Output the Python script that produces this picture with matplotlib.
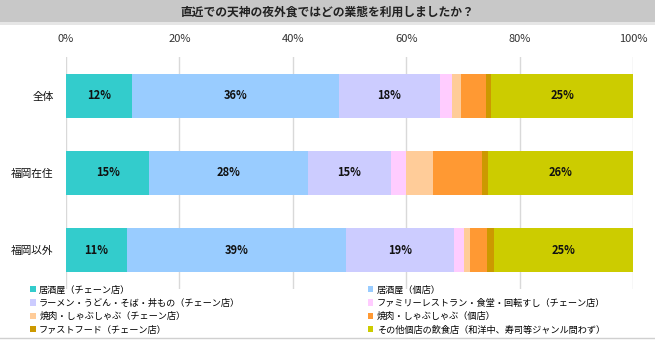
import numpy as np
import matplotlib.pyplot as plt
from matplotlib.patches import Rectangle
from matplotlib.lines import Line2D

plt.rcParams['font.family'] = ['Noto Sans CJK JP', 'DejaVu Sans']

title = "直近での天神の夜外食ではどの業態を利用しましたか？"
groups = ["全体", "福岡在住", "福岡以外"]
categories = [
    "居酒屋（チェーン店）",
    "居酒屋（個店）",
    "ラーメン・うどん・そば・丼もの（チェーン店）",
    "ファミリーレストラン・食堂・回転すし（チェーン店）",
    "焼肉・しゃぶしゃぶ（チェーン店）",
    "焼肉・しゃぶしゃぶ（個店）",
    "ファストフード（チェーン店）",
    "その他個店の飲食店（和洋中、寿司等ジャンル問わず）",
]
# percent per group, one list per category (全体, 福岡在住, 福岡以外)
izakaya_chain = [11.7, 14.7, 10.8]
izakaya_indep = [36.4, 28.0, 38.6]
ramen_chain = [17.9, 14.6, 19.0]
family_chain = [2.1, 2.6, 1.8]
yakiniku_chain = [1.6, 4.8, 1.0]
yakiniku_indep = [4.4, 8.6, 3.0]
fastfood_chain = [0.9, 1.2, 1.2]
other_indep = [25.0, 25.6, 24.7]
series = [izakaya_chain, izakaya_indep, ramen_chain, family_chain,
          yakiniku_chain, yakiniku_indep, fastfood_chain, other_indep]
colors = ["#33CCCC", "#99CCFF", "#CCCCFF", "#FFCCFF",
          "#FFCC99", "#FF9933", "#CC9900", "#CCCC00"]

fig = plt.figure(figsize=(6.55, 3.43), dpi=100)
fig.patch.set_facecolor("white")

# title bar
fig.patches.append(Rectangle((0, 1 - 22 / 343), 1, 22 / 343, transform=fig.transFigure,
                             facecolor="#C8C8C8", edgecolor="none", zorder=0))
fig.patches.append(Rectangle((0, 1 - 25 / 343), 1, 3 / 343, transform=fig.transFigure,
                             facecolor="#E6E6E6", edgecolor="none", zorder=0))
fig.text(0.5, 1 - 12 / 343, title, ha="center", va="center",
         fontsize=8.5, fontweight="bold", color="#222222")
# bottom line
fig.lines.append(Line2D([0, 1], [1 - 337.5 / 343] * 2, transform=fig.transFigure,
                        color="#D0D0D0", linewidth=1))

ax = fig.add_axes([66 / 655, 1 - 289 / 343, (633 - 66) / 655, 232 / 343])
y = np.arange(len(groups))
left = np.zeros(len(groups))
for vals, c, name in zip(series, colors, categories):
    vals = np.array(vals)
    ax.barh(y, vals, left=left, height=0.57, color=c, label=name, zorder=2)
    for yi, v, l in zip(y, vals, left):
        if v >= 10:
            ax.text(l + v / 2, yi, f"{v:.0f}%", ha="center", va="center",
                    fontsize=8, fontweight="bold", color="#111111", zorder=3)
    left += vals

ax.set_xlim(0, 100)
ax.set_ylim(2.5, -0.5)
ax.set_yticks(y)
ax.set_yticklabels(groups, fontsize=7.7)
ax.set_xticks(np.arange(0, 101, 20))
ax.set_xticklabels([f"{t}%" for t in range(0, 101, 20)], fontsize=8)
ax.xaxis.tick_top()
ax.tick_params(axis="x", length=0, pad=9, colors="#333333")
ax.tick_params(axis="y", length=0, pad=9, colors="#111111")
ax.grid(axis="x", color="#D9D9D9", linewidth=1, zorder=0)
for s in ax.spines.values():
    s.set_visible(False)

handles, labels = ax.get_legend_handles_labels()
leg_kw = dict(frameon=False, fontsize=6.6, handlelength=0.65, handleheight=0.65,
              handletextpad=0.35, labelspacing=0.48, borderaxespad=0, borderpad=0)
leg1 = fig.legend(handles[0::2], labels[0::2], loc="upper left",
                  bbox_to_anchor=(30 / 655, 1 - 285 / 343), **leg_kw)
leg2 = fig.legend(handles[1::2], labels[1::2], loc="upper left",
                  bbox_to_anchor=(367.5 / 655, 1 - 285 / 343), **leg_kw)

fig.savefig("out.png", dpi=100)
